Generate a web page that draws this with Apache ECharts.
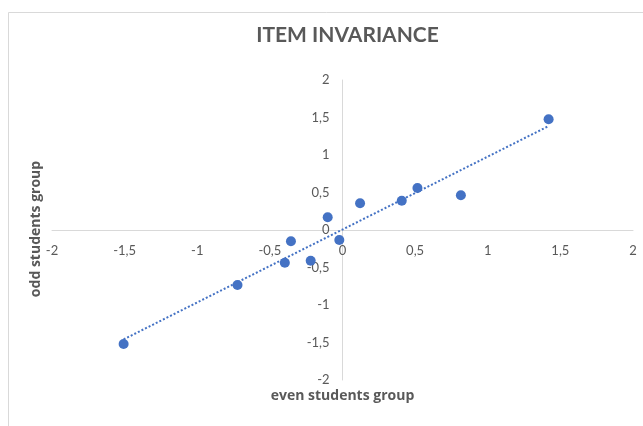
<!DOCTYPE html>
<html>
<head>
<meta charset="utf-8">
<script src="https://cdn.jsdelivr.net/npm/echarts@6/dist/echarts.min.js"></script>
<style>
  html, body { margin: 0; padding: 0; background: #ffffff; }
  #chart { width: 643px; height: 426px; }
</style>
</head>
<body>
<div id="chart"></div>
<script>
// Item measures estimated separately for the two student groups
const evenGroup = [-1.507, -0.723, -0.397, -0.355, -0.219, -0.102, -0.022, 0.121, 0.408, 0.516, 0.815, 1.419];
const oddGroup  = [-1.520, -0.733, -0.436, -0.151, -0.409, 0.169, -0.133, 0.356, 0.391, 0.560, 0.463, 1.476];
const axisTicks = [-2, -1.5, -1, -0.5, 0, 0.5, 1, 1.5, 2];

const points = evenGroup.map((x, i) => [x, oddGroup[i]]);

// Least-squares linear trend across the data range
const n = evenGroup.length;
const mx = evenGroup.reduce((a, b) => a + b, 0) / n;
const my = oddGroup.reduce((a, b) => a + b, 0) / n;
let sxy = 0, sxx = 0;
for (let i = 0; i < n; i++) {
  sxy += (evenGroup[i] - mx) * (oddGroup[i] - my);
  sxx += (evenGroup[i] - mx) ** 2;
}
const slope = sxy / sxx;
const intercept = my - slope * mx;
const xLo = Math.min(...evenGroup), xHi = Math.max(...evenGroup);
const trend = [[xLo, intercept + slope * xLo], [xHi, intercept + slope * xHi]];

const fmt = v => String(v).replace('.', ',');
const textColor = '#595959';
const fontFamily = 'Lato, "Open Sans", sans-serif';
const nameFont = '"Open Sans", Lato, sans-serif';

// Plot area: axes cross at the origin, in the middle of the grid
const grid = { left: 52, right: 10, top: 80, bottom: 46 };
const gridW = 643 - grid.left - grid.right;
const gridH = 426 - grid.top - grid.bottom;
const centerX = grid.left + gridW / 2;

const chart = echarts.init(document.getElementById('chart'), null, { renderer: 'canvas' });
chart.setOption({
  backgroundColor: '#ffffff',
  animation: false,
  graphic: [{
    type: 'polyline',
    shape: { points: [[8.5, 430], [8.5, 12.5], [650, 12.5]] },
    style: { stroke: '#d9d9d9', lineWidth: 1, fill: null },
    silent: true
  }, {
    type: 'text',
    x: centerX + 5,
    y: 25,
    style: { text: 'ITEM INVARIANCE', fill: textColor, font: 'bold 21px ' + fontFamily, align: 'center', verticalAlign: 'top' }
  }, {
    type: 'text',
    x: centerX,
    y: 389,
    style: { text: 'even students group', fill: textColor, font: 'bold 14px ' + nameFont, align: 'center', verticalAlign: 'top' }
  }, {
    type: 'text',
    x: 36,
    y: 229,
    rotation: Math.PI / 2,
    style: { text: 'odd students group', fill: textColor, font: 'bold 14px ' + nameFont, align: 'center', verticalAlign: 'middle' }
  }],
  grid: Object.assign({ containLabel: false }, grid),
  xAxis: {
    type: 'value',
    min: axisTicks[0],
    max: axisTicks[axisTicks.length - 1],
    interval: 0.5,
    offset: -gridH / 2,
    axisLine: { onZero: false, lineStyle: { color: '#d9d9d9', width: 1 } },
    axisTick: { show: false },
    splitLine: { show: false },
    axisLabel: { color: textColor, fontSize: 13, fontFamily, margin: 14, formatter: fmt, showMinLabel: true, showMaxLabel: true }
  },
  yAxis: {
    type: 'value',
    min: axisTicks[0],
    max: axisTicks[axisTicks.length - 1],
    interval: 0.5,
    offset: -gridW / 2,
    axisLine: { show: true, onZero: false, lineStyle: { color: '#d9d9d9', width: 1 } },
    axisTick: { show: false },
    splitLine: { show: false },
    axisLabel: { color: textColor, fontSize: 13, fontFamily, margin: 13, formatter: fmt, showMinLabel: true, showMaxLabel: true }
  },
  series: [{
    type: 'line',
    data: trend,
    showSymbol: false,
    symbol: 'none',
    lineStyle: { color: '#4472c4', width: 2, type: [2, 2] },
    z: 2
  }, {
    type: 'scatter',
    data: points,
    symbol: 'circle',
    symbolSize: 10,
    itemStyle: { color: '#4472c4', opacity: 1 },
    z: 3
  }]
});
</script>
</body>
</html>
